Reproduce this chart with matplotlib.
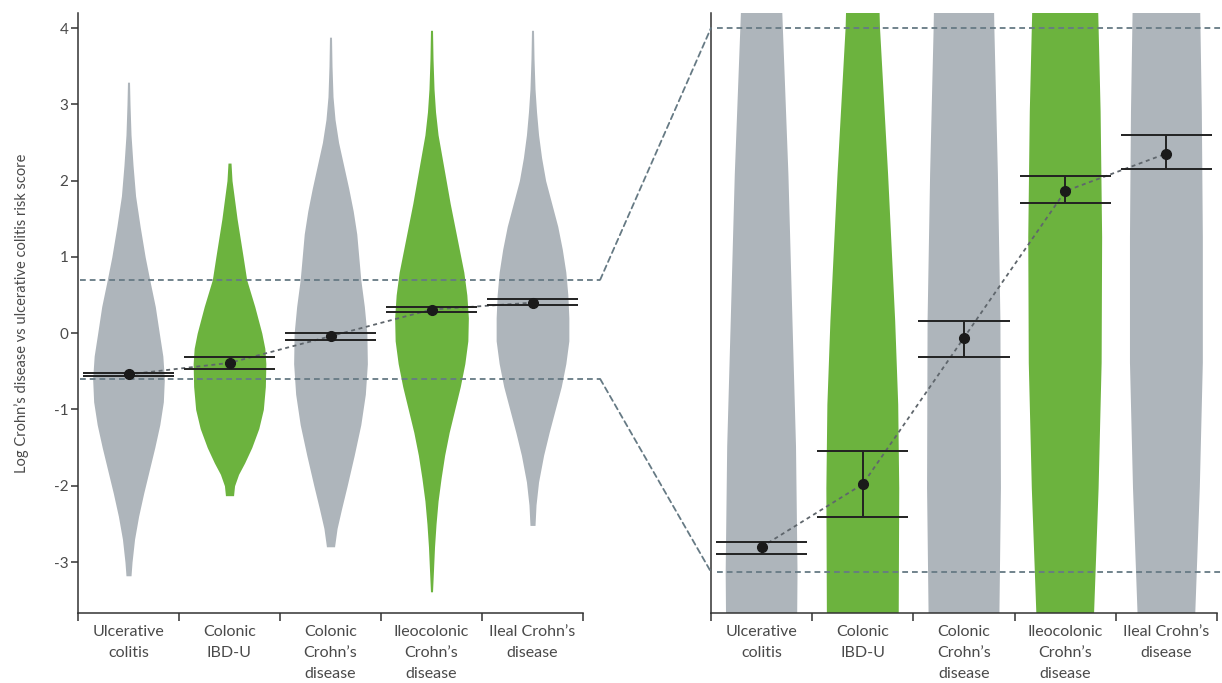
import numpy as np
import matplotlib.pyplot as plt
from matplotlib.patches import ConnectionPatch

plt.rcParams['font.family'] = ['Lato', 'DejaVu Sans']
plt.rcParams['axes.unicode_minus'] = False

categories = ["Ulcerative\ncolitis", "Colonic\nIBD-U", "Colonic\nCrohn’s\ndisease",
              "Ileocolonic\nCrohn’s\ndisease", "Ileal Crohn’s\ndisease"]
is_green = [False, True, False, True, False]

# mean score and 95% CI per group
means = [-0.54, -0.39, -0.04, 0.31, 0.40]
ci_low = [-0.557, -0.468, -0.086, 0.282, 0.363]
ci_high = [-0.528, -0.311, 0.0, 0.346, 0.444]

# violin outlines: score level and full width (in category slots)
uc_y = [3.29, 3.0, 2.6, 2.2, 1.8, 1.4, 1.0, 0.7, 0.35, 0.0, -0.3, -0.6, -0.9, -1.2,
        -1.5, -1.8, -2.1, -2.4, -2.7, -3.0, -3.18]
uc_w = [0.02, 0.03, 0.05, 0.09, 0.14, 0.23, 0.33, 0.42, 0.53, 0.61, 0.68, 0.71, 0.69, 0.62,
        0.52, 0.41, 0.30, 0.20, 0.12, 0.07, 0.05]
ibdu_y = [2.23, 2.0, 1.75, 1.5, 1.25, 1.0, 0.7, 0.35, 0.0, -0.2, -0.4, -0.7, -1.0, -1.25,
          -1.5, -1.7, -1.85, -2.0, -2.13]
ibdu_w = [0.03, 0.05, 0.10, 0.15, 0.21, 0.27, 0.34, 0.50, 0.64, 0.70, 0.72, 0.71, 0.67, 0.58,
          0.44, 0.30, 0.18, 0.10, 0.08]
ccd_y = [3.88, 3.5, 3.1, 2.8, 2.5, 2.2, 1.9, 1.6, 1.3, 1.0, 0.7, 0.35, 0.0, -0.4, -0.8,
         -1.2, -1.6, -2.0, -2.3, -2.56, -2.8]
ccd_w = [0.02, 0.03, 0.05, 0.09, 0.16, 0.26, 0.36, 0.45, 0.52, 0.56, 0.60, 0.67, 0.72, 0.73,
         0.69, 0.60, 0.47, 0.33, 0.22, 0.13, 0.08]
icd_y = [3.97, 3.6, 3.2, 2.9, 2.6, 2.3, 2.0, 1.7, 1.4, 1.1, 0.8, 0.5, 0.2, -0.1, -0.4,
         -0.7, -1.0, -1.3, -1.6, -1.9, -2.2, -2.5, -2.8, -3.1, -3.39]
icd_w = [0.02, 0.03, 0.05, 0.08, 0.13, 0.21, 0.29, 0.37, 0.46, 0.55, 0.64, 0.70, 0.73, 0.72,
         0.66, 0.57, 0.46, 0.35, 0.26, 0.19, 0.13, 0.09, 0.06, 0.04, 0.02]
ileal_y = [3.97, 3.6, 3.2, 2.9, 2.6, 2.3, 2.0, 1.7, 1.4, 1.1, 0.8, 0.5, 0.2, -0.1, -0.4,
           -0.7, -1.0, -1.3, -1.6, -1.95, -2.25, -2.52]
ileal_w = [0.02, 0.03, 0.05, 0.08, 0.12, 0.18, 0.26, 0.38, 0.50, 0.59, 0.66, 0.70, 0.72, 0.72,
           0.66, 0.57, 0.45, 0.33, 0.22, 0.12, 0.07, 0.05]
violins = [(uc_y, uc_w), (ibdu_y, ibdu_w), (ccd_y, ccd_w), (icd_y, icd_w), (ileal_y, ileal_w)]

# zoomed score window shown on the right
zoom_lo, zoom_hi = -0.6, 0.7

grey = "#aeb5bb"
green = "#6cb33e"
ref_col = "#667a84"
text_col = "#4a4a4a"

fig = plt.figure(figsize=(12.22, 6.83), dpi=100)
ax1 = fig.add_axes([78 / 1222, 70 / 683, 505 / 1222, 600 / 683])
ax2 = fig.add_axes([711 / 1222, 70 / 683, 506 / 1222, 600 / 683])

x = np.arange(len(categories))


def draw_panel(ax, whisker):
    for i, (vy, vw) in enumerate(violins):
        hw = np.array(vw) / 2
        ax.fill_betweenx(vy, i - hw, i + hw, color=green if is_green[i] else grey,
                         lw=0, zorder=1)
    ax.plot(x, means, ls=(0, (2.2, 2)), color="#5f666c", lw=1.3, zorder=3)
    ax.hlines(ci_low, x - 0.45, x + 0.45, color="#222222", lw=1.4, zorder=4)
    ax.hlines(ci_high, x - 0.45, x + 0.45, color="#222222", lw=1.4, zorder=4)
    if whisker:
        ax.vlines(x, ci_low, ci_high, color="#222222", lw=1.4, zorder=4)
    ax.plot(x, means, "o", color="#1a1a1a", ms=7, zorder=5)

    ax.set_xlim(-0.5, len(categories) - 0.5)
    for s in ["top", "right"]:
        ax.spines[s].set_visible(False)
    for s in ["left", "bottom"]:
        ax.spines[s].set_color("#333333")
        ax.spines[s].set_linewidth(1.1)
    ax.set_xticks(x)
    ax.set_xticklabels(categories, fontsize=11.5, color=text_col, linespacing=1.62)
    ax.tick_params(axis="x", which="major", length=0, pad=9)
    ax.set_xticks(np.arange(len(categories) + 1) - 0.5, minor=True)
    ax.tick_params(axis="x", which="minor", length=6, width=1.1, color="#333333",
                   direction="out")


draw_panel(ax1, whisker=False)
ax1.set_ylim(-3.668, 4.197)
ax1.set_yticks([-3, -2, -1, 0, 1, 2, 3, 4])
ax1.tick_params(axis="y", length=5, width=1.1, color="#333333", labelsize=11,
                labelcolor=text_col, pad=2)
ax1.set_ylabel("Log Crohn’s disease vs ulcerative colitis risk score", fontsize=10.5,
               color=text_col)
ax1.yaxis.set_label_coords(-0.098, 0.5)

draw_panel(ax2, whisker=True)
ax2.set_ylim(-0.698, 0.7358)
ax2.set_yticks([])

dash = (0, (3.2, 2.2))
# zoom window marks on left panel, extended past the axis end
for level in [zoom_hi, zoom_lo]:
    ax1.plot([-0.48, 4.67], [level, level], ls=dash, color=ref_col, lw=1.3,
             clip_on=False, zorder=2)
    ax2.plot([-0.44, 4.55], [level, level], ls=dash, color=ref_col, lw=1.3,
             clip_on=False, zorder=2)
    con = ConnectionPatch(xyA=(4.67, level), coordsA=ax1.transData,
                          xyB=(-0.5, level), coordsB=ax2.transData,
                          ls=dash, color=ref_col, lw=1.3)
    fig.add_artist(con)

fig.savefig("out.png", dpi=100)
